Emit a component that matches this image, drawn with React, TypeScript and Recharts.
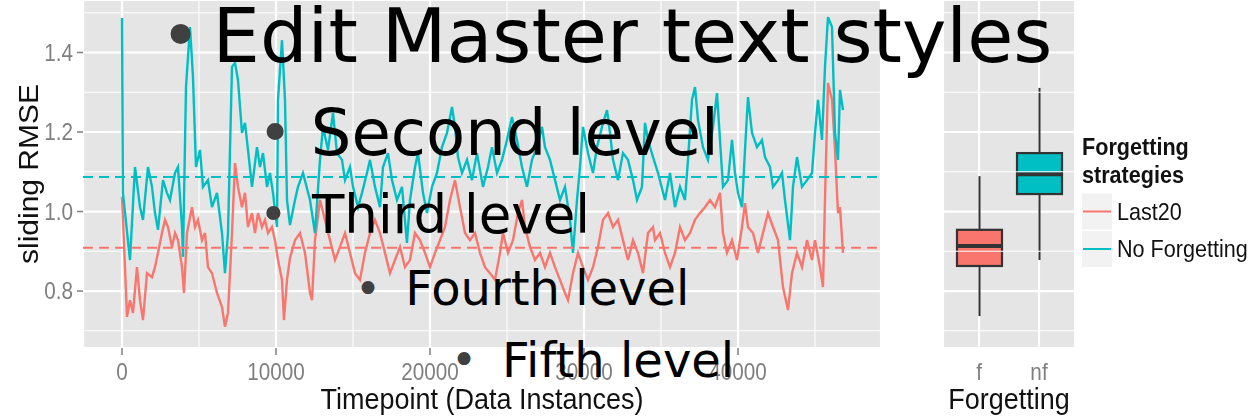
import React from 'react';
import {
  ComposedChart,
  Line,
  Bar,
  XAxis,
  YAxis,
  CartesianGrid,
  ReferenceLine,
} from 'recharts';

// ---- sliding RMSE over the stream, one sample every few hundred instances ----
const last20Time = [
  0, 195, 325, 520, 714, 974, 1169, 1364, 1623, 1948, 2143, 2338, 2597, 2792, 2987, 3247, 3442, 3636, 3896, 4026,
  4221, 4545, 4740, 4935, 5195, 5390, 5584, 5844, 6169, 6494, 6688, 6883, 7143, 7338, 7532, 7792, 7987, 8182, 8442, 8636,
  8831, 9091, 9286, 9481, 9740, 9935, 10130, 10390, 10519, 10714, 10909, 11234, 11558, 11883, 12208, 12338, 12532, 12857, 13182, 13506,
  13831, 14156, 14481, 14805, 15130, 15455, 15779, 16104, 16429, 16753, 17078, 17403, 17727, 18052, 18377, 18701, 19026, 19351, 19675, 20000,
  20325, 20649, 20974, 21299, 21623, 21948, 22273, 22597, 22922, 23247, 23571, 23896, 24221, 24545, 24740, 25065, 25390, 25714, 25974, 26169,
  26494, 26818, 27143, 27468, 27792, 28117, 28442, 28766, 28961, 29286, 29610, 29935, 30260, 30584, 30909, 31234, 31558, 31883, 32208, 32532,
  32857, 33182, 33506, 33831, 34156, 34481, 34610, 34935, 35260, 35584, 35909, 36234, 36558, 36883, 37208, 37532, 37857, 38182, 38506, 38831,
  39026, 39286, 39610, 39935, 40260, 40455, 40649, 40974, 41299, 41623, 41948, 42273, 42597, 42922, 43247, 43506, 43831, 44156, 44481, 44805,
  45000, 45325, 45519, 45649, 45844, 46104, 46299, 46494, 46623, 46818,
];
const last20Rmse = [
  1.037, 0.86, 0.735, 0.777, 0.745, 0.86, 0.777, 0.727, 0.845, 0.835, 0.86, 0.896, 0.946, 0.979, 0.961, 0.911, 0.946, 0.928, 0.86, 0.795,
  0.946, 1.011, 0.961, 0.979, 0.928, 0.946, 0.86, 0.845, 0.795, 0.76, 0.71, 0.745, 0.946, 1.122, 1.062, 1.011, 1.047, 0.961, 0.996, 0.946,
  0.996, 0.961, 0.979, 0.946, 0.961, 0.928, 0.878, 0.828, 0.727, 0.828, 0.883, 0.928, 0.946, 0.896, 0.795, 0.777, 0.928, 1.029, 0.979, 0.928,
  0.878, 0.911, 0.946, 0.896, 0.845, 0.828, 0.896, 0.946, 0.979, 0.946, 0.896, 0.845, 0.878, 0.911, 0.86, 0.878, 0.946, 0.928, 0.896, 0.86,
  0.896, 0.928, 0.961, 1.029, 1.079, 1.011, 0.946, 0.928, 0.946, 0.896, 0.86, 0.845, 0.828, 0.896, 0.946, 0.896, 0.928, 0.996, 1.029, 0.961,
  0.911, 0.878, 0.896, 0.86, 0.896, 0.86, 0.828, 0.795, 0.777, 0.845, 0.896, 0.86, 0.828, 0.86, 0.911, 0.979, 0.996, 0.961, 0.979, 0.928,
  0.878, 0.928, 0.896, 0.845, 0.946, 0.961, 0.928, 0.946, 0.896, 0.86, 0.896, 0.961, 0.928, 0.946, 0.979, 0.996, 1.011, 1.029, 1.011, 1.047,
  0.946, 0.896, 0.928, 0.878, 0.961, 1.021, 0.961, 0.946, 0.896, 0.946, 0.996, 0.961, 0.928, 0.81, 0.752, 0.845, 0.896, 0.86, 0.928, 0.878,
  0.928, 0.86, 0.81, 1.029, 1.323, 1.281, 1.155, 0.996, 1.011, 0.896,
];

const noForgetTime = [
  0, 60, 520, 844, 1169, 1364, 1688, 1948, 2143, 2338, 2662, 2922, 3117, 3442, 3636, 3896, 3961, 4156, 4416, 4610,
  4805, 5065, 5260, 5584, 5844, 6169, 6494, 6688, 6883, 7143, 7338, 7532, 7792, 7987, 8182, 8442, 8766, 8961, 9156, 9416,
  9610, 9805, 10065, 10130, 10390, 10584, 10714, 10909, 11234, 11429, 11753, 12208, 12532, 12857, 13052, 13377, 13701, 13961, 14286, 14481,
  14805, 15000, 15325, 15584, 15909, 16104, 16429, 16753, 16948, 17273, 17532, 17857, 18182, 18506, 18701, 19026, 19221, 19545, 19805, 20130,
  20455, 20779, 21104, 21429, 21623, 21818, 22078, 22403, 22727, 23052, 23442, 23766, 24026, 24351, 24675, 25000, 25325, 25649, 25974, 26299,
  26623, 26948, 27273, 27468, 27792, 28117, 28442, 28766, 29091, 29286, 29545, 29740, 29935, 30260, 30584, 30844, 31169, 31494, 31688, 31883,
  32208, 32532, 32857, 33182, 33442, 33766, 33961, 34156, 34481, 34805, 35260, 35584, 35909, 36234, 36558, 36753, 37013, 37208, 37403, 37727,
  38052, 38377, 38636, 38831, 39026, 39351, 39610, 39805, 40000, 40260, 40455, 40649, 40909, 41234, 41558, 41753, 42078, 42273, 42597, 42857,
  43052, 43377, 43571, 43831, 44156, 44481, 44805, 45000, 45195, 45455, 45649, 45844, 46104, 46299, 46494, 46623, 46818,
];
const noForgetRmse = [
  1.487, 1.047, 0.878, 1.112, 1.011, 0.979, 1.112, 1.062, 0.996, 0.954, 1.079, 1.047, 1.029, 1.097, 1.112, 0.961, 0.886, 1.313, 1.464, 1.338,
  1.112, 1.155, 1.062, 1.079, 1.011, 1.047, 0.946, 0.845, 0.946, 1.364, 1.374, 1.331, 1.198, 1.223, 1.155, 1.062, 1.162, 1.112, 1.147, 1.062,
  1.097, 1.047, 0.961, 1.281, 1.431, 1.281, 1.029, 0.966, 1.029, 1.062, 1.097, 1.029, 0.946, 1.13, 1.213, 1.155, 1.248, 1.147, 1.13, 1.079,
  1.112, 1.062, 1.011, 1.047, 1.097, 1.13, 1.062, 1.011, 1.112, 1.147, 1.079, 1.029, 1.062, 0.921, 1.029, 1.112, 1.147, 1.047, 0.996, 1.062,
  1.097, 1.162, 1.198, 1.263, 1.213, 1.137, 1.097, 1.13, 1.079, 1.147, 1.062, 1.112, 1.162, 1.097, 1.13, 1.18, 1.238, 1.18, 1.112, 1.062,
  1.13, 1.162, 1.213, 1.162, 1.13, 1.079, 1.029, 1.062, 0.979, 0.896, 1.029, 1.112, 1.213, 1.147, 1.097, 1.162, 1.213, 1.255, 1.198, 1.13,
  1.079, 1.147, 1.13, 1.079, 1.029, 1.062, 1.223, 1.18, 1.137, 1.097, 1.029, 1.097, 1.011, 1.062, 1.029, 1.13, 1.281, 1.313, 1.23, 1.162,
  1.13, 1.213, 1.298, 1.18, 1.062, 1.079, 1.18, 1.097, 1.047, 1.011, 1.155, 1.288, 1.198, 1.162, 1.18, 1.137, 1.112, 1.062, 1.079, 1.097,
  1.029, 0.928, 1.062, 1.137, 1.062, 1.079, 1.097, 1.198, 1.281, 1.18, 1.364, 1.489, 1.464, 1.198, 1.13, 1.306, 1.255,
];

// overall mean RMSE of each strategy (dashed reference lines)
const meanLast20 = 0.909;
const meanNoForget = 1.087;

// ---- box plot summary per forgetting group ----
const boxGroups = ['f', 'nf'];
const boxMin = [0.737, 0.878];
const boxQ1 = [0.863, 1.044];
const boxMedian = [0.913, 1.094];
const boxQ3 = [0.954, 1.147];
const boxMax = [1.089, 1.311];

// ---- axes ----
const xMajorTicks = [0, 10000, 20000, 30000, 40000];
const xMinorTicks = [5000, 15000, 25000, 35000, 45000];
const yMajorTicks = [0.8, 1.0, 1.2, 1.4];
const yMinorTicks = [0.7, 0.9, 1.1, 1.3, 1.5];
const xDomain: [number, number] = [-2532, 49286];
const yDomain: [number, number] = [0.6567, 1.5321];

// ---- legend ----
const legendTitle = ['Forgetting', 'strategies'];
const seriesNames = ['Last20', 'No Forgetting'];
const seriesColors = ['#F8766D', '#00BFC4'];

const last20Data = last20Time.map((t, i) => ({ t, rmse: last20Rmse[i] }));
const noForgetData = noForgetTime.map((t, i) => ({ t, rmse: noForgetRmse[i] }));
const boxData = boxGroups.map((group, i) => ({
  group,
  range: [boxMin[i], boxMax[i]],
  min: boxMin[i],
  q1: boxQ1[i],
  median: boxMedian[i],
  q3: boxQ3[i],
  max: boxMax[i],
  fill: seriesColors[i],
}));

const PANEL_BG = '#e5e5e5';
const TICK_GREY = '#7f7f7f';
const SANS = '"Liberation Sans", Arial, sans-serif';
const SQUASH = 'scale(0.9,1)';
const SOFT = 'blur(0.5px)';

const XTick = (props: any) => {
  const { x, y, payload } = props;
  return (
    <g transform={`translate(${x},${y})`}>
      <text transform={SQUASH} textAnchor="middle" y={25} fill={TICK_GREY} fontSize={23} fontFamily={SANS}>
        {payload.value}
      </text>
    </g>
  );
};

const YTick = (props: any) => {
  const { x, y, payload } = props;
  return (
    <g transform={`translate(${x - 4},${y})`}>
      <text transform={SQUASH} textAnchor="end" y={8} fill={TICK_GREY} fontSize={23} fontFamily={SANS}>
        {Number(payload.value).toFixed(1)}
      </text>
    </g>
  );
};

const BoxShape = (props: any) => {
  const { x, y, width, height, payload } = props;
  const top = Math.min(y, y + height);
  const bottom = Math.max(y, y + height);
  const span = payload.max - payload.min;
  const py = (v: number) => bottom - ((v - payload.min) / span) * (bottom - top);
  const cx = x + width / 2;
  return (
    <g>
      <line x1={cx} x2={cx} y1={py(payload.max)} y2={py(payload.q3)} stroke="#333" strokeWidth={2} />
      <line x1={cx} x2={cx} y1={py(payload.q1)} y2={py(payload.min)} stroke="#333" strokeWidth={2} />
      <rect
        x={x}
        y={py(payload.q3)}
        width={width}
        height={py(payload.q1) - py(payload.q3)}
        fill={payload.fill}
        stroke="#333"
        strokeWidth={2.2}
      />
      <line x1={x} x2={x + width} y1={py(payload.median)} y2={py(payload.median)} stroke="#333" strokeWidth={4} />
    </g>
  );
};

const TimelinePanel = () => (
  <ComposedChart width={881} height={419} margin={{ top: 0, right: 0, bottom: 0, left: 0 }}>
    <CartesianGrid fill={PANEL_BG} stroke="#ffffff" strokeWidth={2.2} />
    <XAxis
      dataKey="t"
      type="number"
      domain={xDomain}
      ticks={xMajorTicks}
      allowDataOverflow
      height={71}
      axisLine={false}
      tickSize={7}
      tickMargin={0}
      tickLine={{ stroke: TICK_GREY, strokeWidth: 1.5 }}
      tick={<XTick />}
    />
    <YAxis
      type="number"
      domain={yDomain}
      ticks={yMajorTicks}
      allowDataOverflow
      width={83}
      axisLine={false}
      tickSize={6}
      tickMargin={0}
      tickLine={{ stroke: TICK_GREY, strokeWidth: 1.5 }}
      tick={<YTick />}
    />
    {yMinorTicks.map((v) => (
      <ReferenceLine key={`ym${v}`} y={v} stroke="#ffffff" strokeWidth={1.1} />
    ))}
    {xMinorTicks.map((v) => (
      <ReferenceLine key={`xm${v}`} x={v} stroke="#ffffff" strokeWidth={1.1} />
    ))}
    <Line
      data={last20Data}
      dataKey="rmse"
      type="linear"
      stroke={seriesColors[0]}
      strokeWidth={2.4}
      dot={false}
      isAnimationActive={false}
    />
    <Line
      data={noForgetData}
      dataKey="rmse"
      type="linear"
      stroke={seriesColors[1]}
      strokeWidth={2.4}
      dot={false}
      isAnimationActive={false}
    />
    <ReferenceLine y={meanNoForget} stroke={seriesColors[1]} strokeWidth={2} strokeDasharray="10 6" />
    <ReferenceLine y={meanLast20} stroke={seriesColors[0]} strokeWidth={2} strokeDasharray="10 6" />
  </ComposedChart>
);

const BoxPanel = () => (
  <ComposedChart width={132} height={419} data={boxData} margin={{ top: 0, right: 0, bottom: 0, left: 0 }}>
    <CartesianGrid fill={PANEL_BG} stroke="#ffffff" strokeWidth={2.2} />
    <XAxis
      dataKey="group"
      type="category"
      padding={{ left: 6, right: 6 }}
      height={71}
      axisLine={false}
      tickLine={false}
      tickSize={7}
      tickMargin={0}
      tick={<XTick />}
    />
    <YAxis type="number" domain={yDomain} ticks={yMajorTicks} allowDataOverflow hide />
    {yMinorTicks.map((v) => (
      <ReferenceLine key={`bm${v}`} y={v} stroke="#ffffff" strokeWidth={1.1} />
    ))}
    <Bar dataKey="range" barSize={45} shape={<BoxShape />} isAnimationActive={false} />
  </ComposedChart>
);

const Titles = () => (
  <svg width={1255} height={419} style={{ position: 'absolute', left: 0, top: 0, pointerEvents: 'none', filter: SOFT }}>
    <g transform="translate(38,174) scale(0.9,1) rotate(-90)">
      <text textAnchor="middle" fontSize={30} fontFamily={SANS} fill="#111">
        sliding RMSE
      </text>
    </g>
    <g transform="translate(482,409)">
      <text transform={SQUASH} textAnchor="middle" fontSize={30} fontFamily={SANS} fill="#111">
        Timepoint (Data Instances)
      </text>
    </g>
    <g transform="translate(1009,409)">
      <text transform={SQUASH} textAnchor="middle" fontSize={30} fontFamily={SANS} fill="#111">
        Forgetting
      </text>
    </g>
    {legendTitle.map((line, i) => (
      <g key={line} transform={`translate(1082,${155 + i * 28})`}>
        <text transform={SQUASH} fontSize={24} fontWeight="bold" fontFamily={SANS} fill="#111">
          {line}
        </text>
      </g>
    ))}
    {seriesNames.map((name, i) => (
      <g key={name} transform={`translate(0,${i * 37.5})`}>
        <rect x={1082} y={193.5} width={30} height={36} fill="#f2f2f2" />
        <line x1={1083} x2={1111} y1={211.5} y2={211.5} stroke={seriesColors[i]} strokeWidth={2} />
        <g transform="translate(1117,219.5)">
          <text transform={SQUASH} fontSize={24} fontFamily={SANS} fill="#111">
            {name}
          </text>
        </g>
      </g>
    ))}
  </svg>
);

// slide-master placeholder text sitting on top of the figure
const outlineLevels = [
  { text: 'Edit Master text styles', size: 75, x: 212.6, baseline: 62, bulletX: 180.7 },
  { text: 'Second level', size: 64, x: 310.8, baseline: 155, bulletX: 275 },
  { text: 'Third level', size: 53, x: 312, baseline: 233, bulletX: 273.3 },
  { text: 'Fourth level', size: 48, x: 405.3, baseline: 305, bulletX: 368 },
  { text: 'Fifth level', size: 48, x: 502, baseline: 376.7, bulletX: 464 },
];

const Outline = () => (
  <svg width={1255} height={419} style={{ position: 'absolute', left: 0, top: 0, pointerEvents: 'none' }}>
    {outlineLevels.map((lvl) => (
      <g key={lvl.text} fontFamily='"DejaVu Sans", sans-serif'>
        <text
          x={lvl.bulletX}
          y={lvl.baseline - lvl.size * 0.03}
          textAnchor="middle"
          fontSize={lvl.size * 0.92}
          fill="#404040"
        >
          •
        </text>
        <text x={lvl.x} y={lvl.baseline} fontSize={lvl.size} fill="#000">
          {lvl.text}
        </text>
      </g>
    ))}
  </svg>
);

export default function App() {
  return (
    <div style={{ position: 'absolute', left: 0, top: 0, width: 1255, height: 419, background: '#fff', overflow: 'hidden' }}>
      <div style={{ position: 'absolute', left: 0, top: 0, filter: SOFT }}>
        <TimelinePanel />
      </div>
      <div style={{ position: 'absolute', left: 943, top: 0, filter: SOFT }}>
        <BoxPanel />
      </div>
      <Titles />
      <Outline />
    </div>
  );
}
